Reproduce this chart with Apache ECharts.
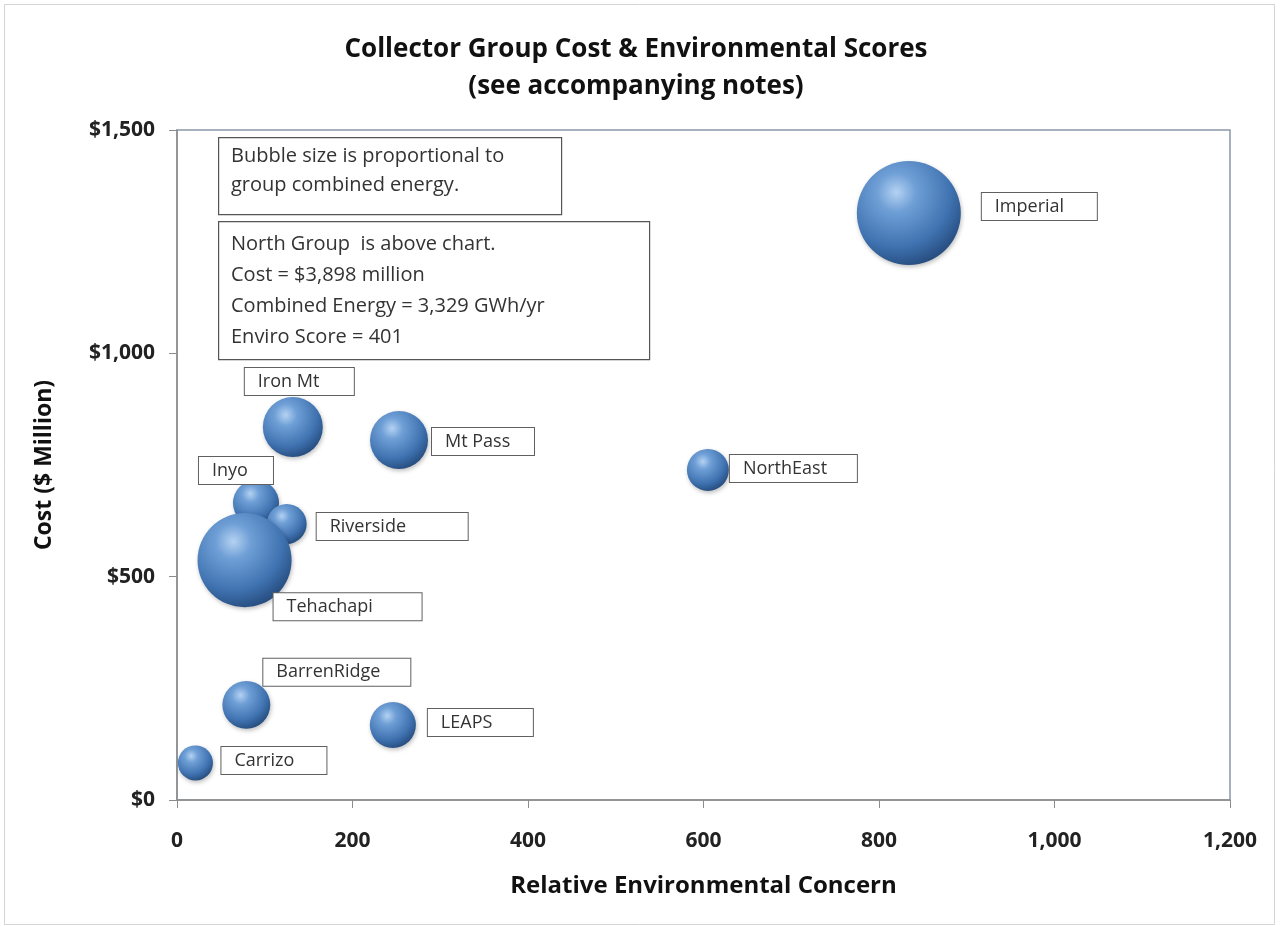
<!DOCTYPE html>
<html>
<head>
<meta charset="utf-8">
<script src="https://cdn.jsdelivr.net/npm/echarts@6/dist/echarts.min.js"></script>
<style>
html,body{margin:0;padding:0;background:#fff;}
#chart{width:1280px;height:926px;}
</style>
</head>
<body>
<div id="chart"></div>
<script>
// ---- data ----
const groups = ['Imperial','NorthEast','Mt Pass','Iron Mt','Inyo','Riverside','Tehachapi','BarrenRidge','LEAPS','Carrizo'];
const enviroScore = [834, 605, 253, 132, 90, 125, 77, 79, 246, 21];
const costMillion = [1314, 739, 806, 835, 665, 618, 537, 213, 168, 83];
const energyGWh = [8000, 1300, 2490, 2660, 1570, 1180, 6540, 1700, 1570, 910];
const xTicks = [0, 200, 400, 600, 800, 1000, 1200];
const yTicks = [0, 500, 1000, 1500];

// ---- styles (label box offsets from bubble centre, box widths) ----
const labelOffset = [[73,-20],[22,-15],[33,-12],[-48,-59],[-57,-46],[30,-11],[29,33],[17,-46],[35,-16],[26,-16]];
const labelWidth = [115,127,102,109,74,151,148,147,105,105];
const maxDiameter = 104;
const maxEnergy = Math.max(...energyGWh);
const sizeOf = e => maxDiameter * Math.sqrt(e / maxEnergy);

const chart = echarts.init(document.getElementById('chart'));
const font = '"Open Sans", Lato, "Liberation Sans", sans-serif';

const sphere = new echarts.graphic.RadialGradient(0.38, 0.3, 0.75, [
  {offset: 0, color: '#b4d2f2'},
  {offset: 0.25, color: '#6f9fd6'},
  {offset: 0.7, color: '#3f72b0'},
  {offset: 1, color: '#24497a'}
]);

const data = groups.map((g, i) => {
  const s = sizeOf(energyGWh[i]);
  return {
    name: g,
    value: [enviroScore[i], costMillion[i]],
    symbolSize: s,
    label: {
      show: true,
      formatter: g,
      position: [s / 2 + labelOffset[i][0], s / 2 + labelOffset[i][1]],
      align: 'left',
      verticalAlign: 'top',
      width: labelWidth[i] - 26,
      overflow: 'none',
      padding: [4, 13, 4, 13],
      backgroundColor: '#fff',
      borderColor: '#606060',
      borderWidth: 1,
      color: '#333',
      fontSize: 18,
      lineHeight: 19,
      fontFamily: font
    }
  };
});

function fmtMoney(v) {
  return '$' + v.toLocaleString('en-US');
}

const option = {
  animation: false,
  backgroundColor: '#fff',
  title: {
    text: 'Collector Group Cost & Environmental Scores\n(see accompanying notes)',
    left: 631,
    textAlign: 'center',
    top: 26,
    textStyle: {fontFamily: font, fontSize: 26, fontWeight: 'bold', color: '#111', lineHeight: 37}
  },
  grid: {left: 177, top: 130, right: 50, bottom: 126, show: true, borderColor: '#8a97a8', borderWidth: 1.5, backgroundColor: 'transparent'},
  xAxis: {
    type: 'value', min: 0, max: 1200, interval: 200,
    name: 'Relative Environmental Concern', nameLocation: 'middle', nameGap: 74,
    nameTextStyle: {fontFamily: font, fontSize: 24, fontWeight: 'bold', color: '#111'},
    axisLine: {show: true, lineStyle: {color: '#8c8c8c', width: 1.5}},
    axisTick: {show: true, length: 8, lineStyle: {color: '#8c8c8c'}},
    splitLine: {show: false},
    axisLabel: {fontFamily: font, fontSize: 21, fontWeight: 'bold', color: '#222', margin: 31,
      formatter: v => v.toLocaleString('en-US')}
  },
  yAxis: {
    type: 'value', min: 0, max: 1500, interval: 500,
    name: 'Cost ($ Million)', nameLocation: 'middle', nameGap: 121,
    nameTextStyle: {fontFamily: font, fontSize: 23, fontWeight: 'bold', color: '#111'},
    axisLine: {show: true, lineStyle: {color: '#8c8c8c', width: 1.5}},
    axisTick: {show: true, length: 8, lineStyle: {color: '#8c8c8c'}},
    splitLine: {show: false},
    axisLabel: {fontFamily: font, fontSize: 21, fontWeight: 'bold', color: '#222', margin: 22,
      formatter: v => fmtMoney(v)}
  },
  series: [{
    type: 'scatter',
    data: data,
    itemStyle: {color: sphere, opacity: 1, shadowBlur: 4, shadowColor: 'rgba(0,0,0,0.25)', shadowOffsetX: 1, shadowOffsetY: 2},
    emphasis: {disabled: true}
  }],
  graphic: [
    {type: 'rect', left: 2, top: 2, shape: {width: 1270, height: 920}, style: {fill: 'none', stroke: '#d4d4d4', lineWidth: 1}, z: -1},
    {type: 'rect', left: 218, top: 137, shape: {width: 343, height: 77}, style: {fill: '#fff', stroke: '#555', lineWidth: 1.2}, z: 10},
    {type: 'text', left: 231, top: 142, z: 11, style: {
      text: 'Bubble size is proportional to\ngroup combined energy.',
      fill: '#333', font: '20px ' + font, lineHeight: 29}},
    {type: 'rect', left: 218, top: 221, shape: {width: 431, height: 138}, style: {fill: '#fff', stroke: '#555', lineWidth: 1.2}, z: 10},
    {type: 'text', left: 231, top: 229, z: 11, style: {
      text: 'North Group  is above chart.\nCost = $3,898 million\nCombined Energy = 3,329 GWh/yr\nEnviro Score = 401',
      fill: '#333', font: '20px ' + font, lineHeight: 31}}
  ]
};
chart.setOption(option);
</script>
</body>
</html>
